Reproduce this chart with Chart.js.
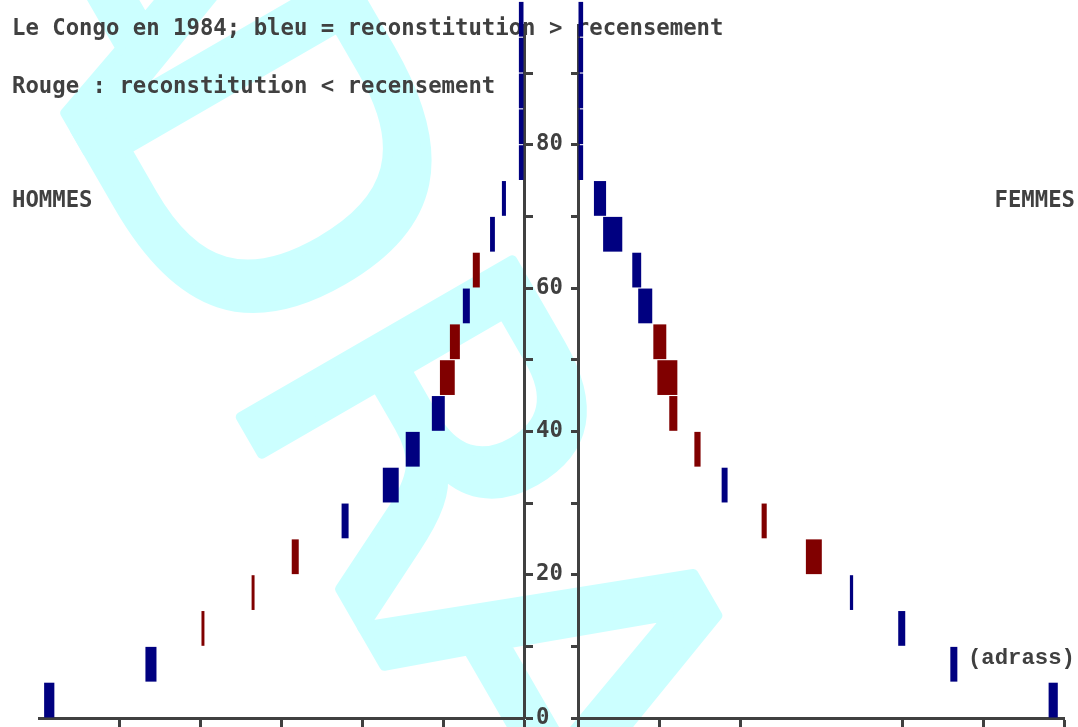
<!DOCTYPE html>
<html>
<head>
<meta charset="utf-8">
<script src="https://cdn.jsdelivr.net/npm/chart.js@4.4.1/dist/chart.umd.min.js"></script>
<style>
body { margin: 0; background: #ffffff; }
#page { position: relative; width: 1078px; height: 727px; overflow: hidden; }
.txt { position: absolute; font-family: "DejaVu Sans Mono", monospace; font-weight: bold;
       font-size: 22.3px; line-height: 22px; color: #404040; white-space: pre; }
.sig { font-family: "Liberation Mono", monospace; }
.bloc { position: absolute; top: 0; }
</style>
</head>
<body>
<div id="page">
  <canvas id="filigrane" width="1078" height="727" style="position:absolute;left:0;top:0"></canvas>
  <div class="txt" style="left:12px;top:16px">Le Congo en 1984; bleu = reconstitution &gt; recensement</div>
  <div class="txt" style="left:12px;top:74px">Rouge : reconstitution &lt; recensement</div>
  <div class="txt" style="left:12px;top:188px">HOMMES</div>
  <div class="txt" style="right:3px;top:188px">FEMMES</div>
  <div class="txt sig" style="right:3px;top:647px">(adrass)</div>
  <div class="bloc" style="left:0"><canvas id="hommes" width="570" height="727"></canvas></div>
  <div class="bloc" style="left:570px"><canvas id="femmes" width="508" height="727"></canvas></div>
</div>
<script>
// groupes d'ages (debut de chaque tranche de 5 ans)
var debutsAges = [0, 5, 10, 15, 20, 25, 30, 35, 40, 45, 50, 55, 60, 65, 70, 75, 80, 85, 90, 95];

// hommes (milliers)
var hommesReconstitution = [178.1, 140.5, 118.6, 100.0, 83.6, 67.7, 52.4, 43.9, 34.2, 25.7,
                            23.8, 22.7, 16.4, 12.6, 8.2, 1.9, 1.9, 1.9, 1.9, 1.9];
var hommesRecensement    = [174.3, 136.4, 119.7, 101.1, 86.2, 65.1, 46.5, 38.7, 29.4, 31.2,
                            27.5, 20.1, 19.0, 10.8, 6.7, 0, 0, 0, 0, 0];

// femmes (milliers)
var femmesReconstitution = [177.7, 140.5, 121.2, 101.9, 84.4, 68.0, 55.4, 43.1, 33.8, 29.4,
                            27.9, 27.5, 23.4, 16.4, 10.4, 1.9, 1.9, 1.9, 1.9, 1.9];
var femmesRecensement    = [174.3, 137.9, 118.6, 100.7, 90.3, 69.9, 53.2, 45.4, 36.8, 36.8,
                            32.7, 22.3, 20.1, 9.3, 5.9, 0, 0, 0, 0, 0];

// graduations
var pasEffectif = 30;
var maxEffectif = 180;
var pasAge = 10;
var maxAge = 96.7;
var etiquettesAge = [0, 20, 40, 60, 80];

var BLEU = '#000080';
var ROUGE = '#800000';
var GRIS = '#404040';
var POLICE = { family: '"DejaVu Sans Mono", monospace', size: 22.3, weight: 'bold' };

// filigrane (le A initial est rapproche du D)
var fil = document.getElementById('filigrane').getContext('2d');
fil.save();
fil.translate(-93, -161);
fil.rotate(Math.PI / 3);
fil.font = '430px "DejaVu Sans"';
fil.fillStyle = '#ccffff';
fil.strokeStyle = '#ccffff';
fil.lineWidth = 10;
fil.lineJoin = 'round';
var largeurA = fil.measureText('A').width;
fil.fillText('A', 70, 0);
fil.strokeText('A', 70, 0);
fil.fillText('DRASS', largeurA, 0);
fil.strokeText('DRASS', largeurA, 0);
fil.restore();

function barres(recon, recens) {
    return {
        data: debutsAges.map(function (a, i) { return { y: a + 2.5, x: [recens[i], recon[i]] }; }),
        backgroundColor: recon.map(function (v, i) { return v > recens[i] ? BLEU : ROUGE; }),
        borderWidth: 0,
        barPercentage: 0.97,
        categoryPercentage: 1,
        clip: false
    };
}

function pyramide(id, recon, recens, cote) {
    var hommes = cote === 'hommes';
    new Chart(document.getElementById(id), {
        type: 'bar',
        data: { datasets: [barres(recon, recens)] },
        options: {
            indexAxis: 'y',
            responsive: false,
            animation: false,
            layout: { padding: hommes ? { left: 39, right: 0, top: 25, bottom: 9 }
                                      : { left: 8, right: 14, top: 25, bottom: 9 } },
            plugins: { legend: { display: false }, tooltip: { enabled: false } },
            scales: {
                x: {
                    type: 'linear', position: 'bottom', min: 0, max: maxEffectif, reverse: hommes,
                    ticks: { stepSize: pasEffectif, display: false },
                    grid: {
                        drawOnChartArea: false, tickLength: 9, tickWidth: 3,
                        tickColor: function (c) {
                            if (!c.tick) return GRIS;
                            if (hommes && c.tick.value === maxEffectif) return 'rgba(0,0,0,0)';
                            if (!hommes && c.tick.value === 90) return 'rgba(0,0,0,0)';
                            return GRIS;
                        }
                    },
                    border: { color: GRIS, width: 3 },
                    afterFit: function (s) { s.height = 0; s.paddingLeft = 0; s.paddingRight = 0; }
                },
                y: {
                    type: 'linear', position: hommes ? 'right' : 'left', min: 0, max: maxAge,
                    offset: false,
                    ticks: {
                        stepSize: pasAge, display: hommes, color: GRIS, font: POLICE, padding: 3,
                        autoSkip: false, includeBounds: false,
                        callback: function (v) { return etiquettesAge.indexOf(v) >= 0 ? String(v) : ''; }
                    },
                    grid: {
                        offset: false, drawOnChartArea: false, tickLength: hommes ? 9 : 7, tickWidth: 3,
                        tickColor: GRIS
                    },
                    border: { color: GRIS, width: 3 },
                    afterFit: function (s) {
                        s.width = hommes ? 46 : 0;
                        s.paddingTop = 0;
                        s.paddingBottom = 0;
                    }
                }
            }
        }
    });
}

pyramide('hommes', hommesReconstitution, hommesRecensement, 'hommes');
pyramide('femmes', femmesReconstitution, femmesRecensement, 'femmes');
</script>
</body>
</html>
